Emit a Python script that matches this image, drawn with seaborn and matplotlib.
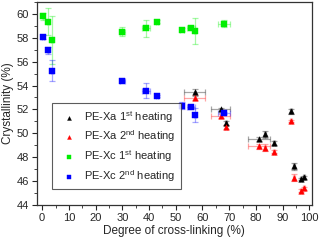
import matplotlib
matplotlib.use("Agg")
import matplotlib.pyplot as plt
import seaborn as sns
import pandas as pd
from matplotlib.ticker import MultipleLocator

# PE-Xa (black = 1st heating, red = 2nd heating)
xa_x = [57.1, 66.8, 68.9, 81.1, 83.5, 86.7, 93.2, 94.3, 96.8, 98.1]
xa_xerr = [4.0, 3.5, 0.3, 4.1, 0.3, 0.3, 0.3, 0.3, 0.3, 0.3]
xa1_y = [53.42, 52.0, 50.85, 49.53, 49.9, 49.17, 51.83, 47.25, 46.19, 46.3]
xa1_yerr = [0.3, 0.15, 0.15, 0.15, 0.3, 0.15, 0.2, 0.3, 0.1, 0.1]
xa2_y = [52.97, 51.47, 50.55, 48.9, 48.8, 48.47, 51.05, 46.27, 45.2, 45.38]
xa2_yerr = [0.2, 0.15, 0.15, 0.2, 0.3, 0.15, 0.1, 0.3, 0.1, 0.1]

# PE-Xc (green = 1st heating, blue = 2nd heating)
xc_x = [0.3, 2.1, 3.6, 30.0, 38.8, 43.0, 52.4, 55.7, 57.3, 68.2]
xc_xerr = [0.5, 0.3, 0.3, 1.0, 1.5, 0.3, 0.8, 1.5, 0.3, 2.2]
xc1_y = [59.78, 59.36, 57.78, 58.52, 58.78, 59.36, 58.69, 58.8, 58.55, 59.17]
xc1_yerr = [0.3, 1.1, 2.0, 0.35, 0.7, 0.1, 0.1, 0.15, 1.1, 0.3]
xc2_y = [58.05, 56.94, 55.25, 54.36, 53.58, 53.13, 52.3, 52.17, 51.55, 51.72]
xc2_yerr = [0.15, 0.3, 0.9, 0.1, 0.6, 0.1, 0.3, 0.1, 0.6, 0.1]

labels = [r"PE-Xa 1$^{\mathrm{st}}$ heating", r"PE-Xa 2$^{\mathrm{nd}}$ heating",
          r"PE-Xc 1$^{\mathrm{st}}$ heating", r"PE-Xc 2$^{\mathrm{nd}}$ heating"]
colors = ["black", "red", "#00ee00", "#0000ff"]
markers = ["^", "^", "s", "s"]

series = [
    (xa_x, xa1_y, xa_xerr, xa1_yerr),
    (xa_x, xa2_y, xa_xerr, xa2_yerr),
    (xc_x, xc1_y, xc_xerr, xc1_yerr),
    (xc_x, xc2_y, xc_xerr, xc2_yerr),
]

sns.set_style("ticks")
plt.rcParams["font.family"] = ["Liberation Sans", "DejaVu Sans"]
plt.rcParams["mathtext.fontset"] = "custom"
plt.rcParams["mathtext.rm"] = "Liberation Sans"

fig = plt.figure(figsize=(3.2, 2.4), dpi=100)
ax = fig.add_axes([0.115, 0.146, 0.86, 0.846])

for (x, y, xe, ye), lab, c, m in zip(series, labels, colors, markers):
    ax.errorbar(x, y, xerr=xe, yerr=ye, fmt="none", ecolor=c, alpha=0.35,
                elinewidth=0.9, capsize=2, capthick=0.9, zorder=2)
    df = pd.DataFrame({"x": x, "y": y})
    sns.scatterplot(data=df, x="x", y="y", ax=ax, color=c, marker=m, s=16,
                    edgecolor=c, linewidth=0.3, label=lab, zorder=3)

ax.set_xlim(-2, 101)
ax.set_ylim(44, 61)
ax.xaxis.set_major_locator(MultipleLocator(10))
ax.xaxis.set_minor_locator(MultipleLocator(5))
ax.yaxis.set_major_locator(MultipleLocator(2))
ax.yaxis.set_minor_locator(MultipleLocator(1))
ax.tick_params(which="major", length=3.5, width=0.8, labelsize=8, pad=2, direction="out")
ax.tick_params(which="minor", length=2, width=0.6, direction="out")
for s in ax.spines.values():
    s.set_linewidth(0.9)
    s.set_color("#333333")
ax.set_xlabel("Degree of cross-linking (%)", fontsize=8.5, labelpad=2)
ax.set_ylabel("Crystallinity (%)", fontsize=8.5, labelpad=2)

leg = ax.legend(loc="lower left", bbox_to_anchor=(0.035, 0.05), fontsize=8,
                frameon=True, fancybox=False, edgecolor="#333333",
                handletextpad=0.4, borderpad=0.5, labelspacing=0.35,
                markerscale=0.7)
leg.get_frame().set_linewidth(0.8)

fig.savefig("out.png", dpi=100)
